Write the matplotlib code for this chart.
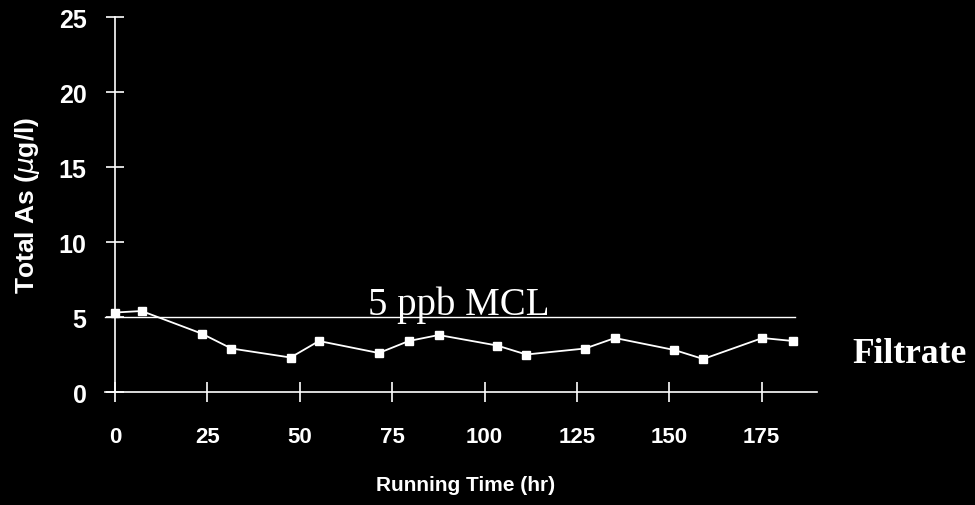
import matplotlib
matplotlib.use("Agg")
import matplotlib.pyplot as plt

# Filtrate arsenic over the run
hours = [0, 7.2, 23.4, 31.5, 47.5, 55.2, 71.4, 79.5, 87.6, 103.4, 111.3,
         127.2, 135.3, 151.4, 159.2, 175.2, 183.5]
total_as = [5.3, 5.4, 3.9, 2.9, 2.3, 3.4, 2.6, 3.4, 3.8, 3.1, 2.5,
            2.9, 3.6, 2.8, 2.2, 3.6, 3.4]

mcl = 5
x_ticks = [0, 25, 50, 75, 100, 125, 150, 175]
y_ticks = [0, 5, 10, 15, 20, 25]

fig = plt.figure(figsize=(9.75, 5.06), dpi=100, facecolor="black")
ax = fig.add_axes([0.118, 0.2233, 0.72, 0.7411], facecolor="black")

sans = ["Liberation Sans", "DejaVu Sans"]
serif = ["Liberation Serif", "DejaVu Serif"]

# MCL reference line
ax.plot([-2.7, 184], [mcl, mcl], color="white", lw=1.0, clip_on=False)
ax.text(93, mcl + 0.2, "5 ppb MCL", color="white", family=serif,
        fontsize=28, ha="center", va="baseline")

# x axis runs a little past the y axis on the left
ax.plot([-2.7, 0], [0, 0], color="white", lw=1.2, clip_on=False)

ax.plot(hours, total_as, color="white", lw=1.3, marker="s", markersize=5.5,
        markerfacecolor="white", markeredgecolor="white", clip_on=False)

ax.text(199.5, 2.0, "Filtrate", color="white", family=serif,
        fontsize=25.5, fontweight="bold", ha="left", va="baseline", clip_on=False)

ax.set_xlim(0, 190)
ax.set_ylim(0, 25)
ax.set_xticks(x_ticks)
ax.set_yticks(y_ticks)
ax.set_xticklabels([str(t) for t in x_ticks], family=sans, fontweight="bold",
                   fontsize=16, color="white")
ax.set_yticklabels([str(t) for t in y_ticks], family=sans,
                   fontweight="bold", fontsize=18, color="white")

for side in ["top", "right"]:
    ax.spines[side].set_visible(False)
for side in ["left", "bottom"]:
    ax.spines[side].set_color("white")
    ax.spines[side].set_linewidth(1.2)

ax.tick_params(axis="x", direction="inout", length=15, width=1.2, colors="white",
               pad=17)
ax.tick_params(axis="y", direction="inout", length=13, width=1.2, colors="white",
               pad=14)

ax.set_xlabel("Running Time (hr)", family=sans, fontweight="bold", fontsize=15,
              color="white", labelpad=20)
ax.set_ylabel("Total As ($\\mu$g/l)", family=sans, fontweight="bold",
              fontsize=19, color="white", labelpad=12)

fig.savefig("out.png", dpi=100, facecolor="black")
